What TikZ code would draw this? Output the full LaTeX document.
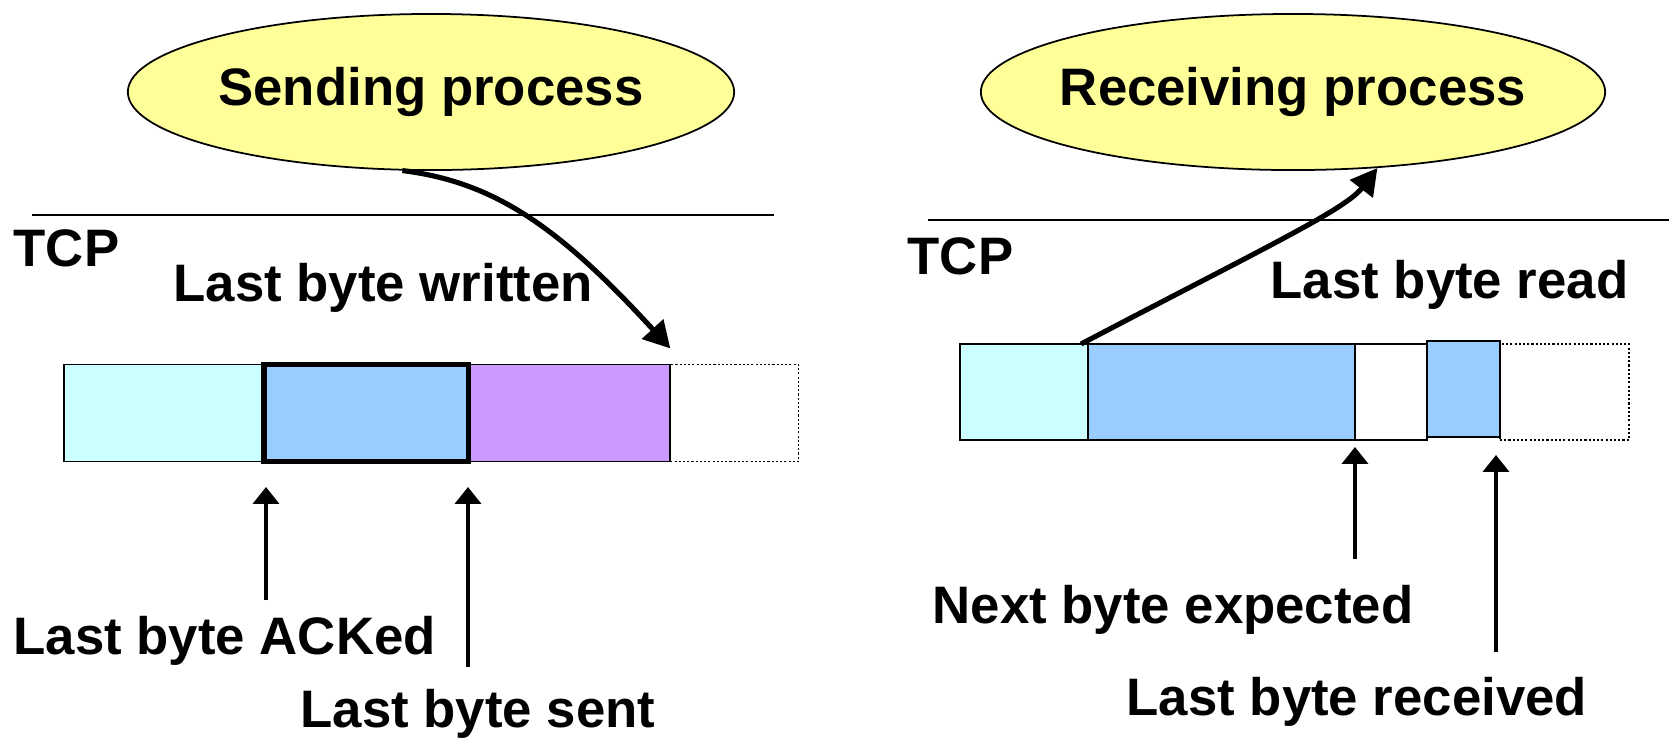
\documentclass[tikz,border=0pt]{standalone}
\usepackage{fontspec}
\setmainfont{Liberation Sans}
\usetikzlibrary{arrows.meta,positioning,shapes.geometric}
\definecolor{procyellow}{HTML}{FFFF99}
\definecolor{bufcyan}{HTML}{CCFFFF}
\definecolor{bufblue}{HTML}{99CCFF}
\definecolor{bufpurple}{HTML}{CC99FF}
\tikzset{
  proc/.style={ellipse, draw, line width=0.5pt, fill=procyellow, inner ysep=0pt,
    inner xsep=-0.15cm, minimum height=1.56cm, font=\bfseries\fontsize{15}{18}\selectfont},
  lbl/.style={inner sep=0pt, font=\bfseries\fontsize{15}{18}\selectfont},
  cell/.style={draw, line width=0.5pt, minimum height=0.97cm, inner sep=0pt, outer sep=0pt},
  free/.style={draw, dash pattern=on 0.6pt off 0.6pt, line width=0.5pt},
  ptr/.style={-{Triangle[length=4.8pt,width=7.4pt]}, line width=0.95pt},
  flow/.style={-{Triangle[length=7.5pt,width=8pt]}, line width=1.45pt},
}

\begin{document}
\begin{tikzpicture}[x=0.01cm,y=-0.01cm]
  \useasboundingbox (0,0) rectangle (1669,738);

  % Processes
  \node[proc, minimum width=6.06cm] (send) at (431,92) {Sending process};
  \node[proc, minimum width=6.24cm] (recv) at (1293,92) {Receiving process};

  % TCP boundary
  \draw[line width=0.4pt] (32,215) -- (774,215);
  \draw[line width=0.4pt] (928,220) -- (1669,220);
  \node[lbl, anchor=base west] (tcpS) at (13,266) {TCP};
  \node[lbl, anchor=base west] (tcpR) at (907,274) {TCP};

  % Send buffer
  \node[cell, fill=bufcyan, minimum width=2cm, anchor=west] (s1) at (64,413) {};
  \node[cell, fill=bufblue, minimum width=2.04cm, right=0pt of s1] (s2) {};
  \node[cell, fill=bufpurple, minimum width=2.02cm, right=0pt of s2] (s3) {};
  \node[cell, free, minimum width=1.28cm, right=0pt of s3] (s4) {};
  \draw[line width=1.5pt] (s2.south west) rectangle (s2.north east);

  % Receive buffer
  \node[cell, fill=bufcyan, minimum width=1.28cm, minimum height=0.96cm, anchor=west] (r1) at (960,392) {};
  \node[cell, fill=bufblue, minimum width=2.67cm, minimum height=0.96cm, right=0pt of r1] (r2) {};
  \node[cell, fill=white, minimum width=0.72cm, minimum height=0.96cm, right=0pt of r2] (r3) {};
  \node[cell, fill=bufblue, minimum width=0.73cm, minimum height=0.96cm, anchor=west] (r4) at (1427,389) {};
  \node[cell, free, minimum width=1.29cm, minimum height=0.96cm, anchor=west] (r5) at (1500,392) {};

  % Labels
  \node[lbl, anchor=base west] (written) at (173,301) {Last byte written};
  \node[lbl, anchor=base west] (read) at (1270,298) {Last byte read};
  \node[lbl, anchor=base west] (acked) at (13,654) {Last byte ACKed};
  \node[lbl, anchor=base west] (sent) at (300,727) {Last byte sent};
  \node[lbl, anchor=base west] (expect) at (932,623) {Next byte expected};
  \node[lbl, anchor=base west] (rcvd) at (1126,715) {Last byte received};

  % Pointer ends
  \coordinate (ackTail) at (266,600);
  \coordinate (ackTip) at (266,487);
  \coordinate (sentTail) at (468,667);
  \coordinate (sentTip) at (468,487);
  \coordinate (expTail) at (1355,559);
  \coordinate (expTip) at (1355,447);
  \coordinate (rcvTail) at (1496,652);
  \coordinate (rcvTip) at (1496,455);

  \draw[ptr] (ackTail) -- (ackTip);
  \draw[ptr] (sentTail) -- (sentTip);
  \draw[ptr] (expTail) -- (expTip);
  \draw[ptr] (rcvTail) -- (rcvTip);

  % Data flow
  \draw[flow] (send.-110) .. controls (495,182) and (560,228) .. ([yshift=0.16cm]s4.north west);
  \draw[flow] ([xshift=-0.07cm]r1.north east) .. controls (1260,250) and (1345,210) .. (recv.-42);
\end{tikzpicture}
\end{document}
